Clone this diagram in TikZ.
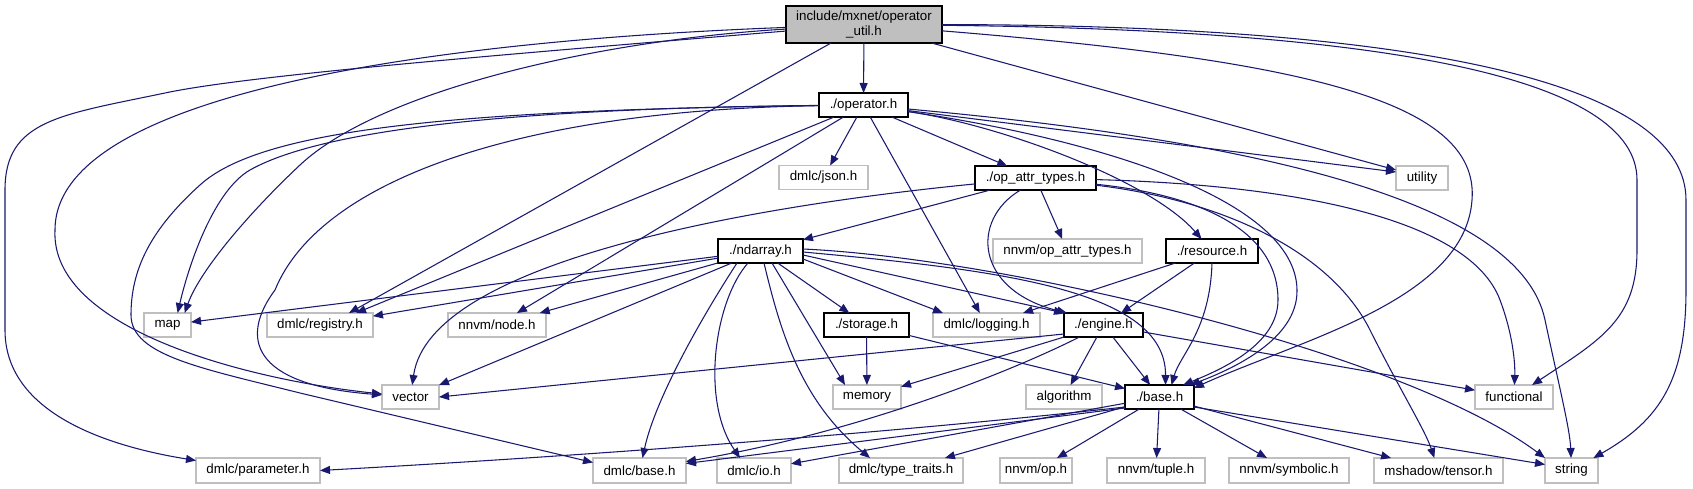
\documentclass[tikz,border=0pt]{standalone}
\usepackage{fontspec}
\setmainfont{Liberation Sans}
\usetikzlibrary{arrows.meta,calc}
\definecolor{edgeblue}{HTML}{191970}
\definecolor{extgray}{HTML}{BFBFBF}
\definecolor{rootgray}{HTML}{BFBFBF}
\begin{document}
\begin{tikzpicture}[x=0.75pt,y=-0.75pt,
  every node/.style={font=\fontsize{10}{11.25}\selectfont, inner sep=0pt, outer sep=0pt},
  sz/.style 2 args={minimum width=#1*0.75pt, minimum height=#2*0.75pt},
  proj/.style={draw=black, line width=0.9pt, fill=white},
  ext/.style={draw=extgray, line width=0.8pt, fill=white},
  rootbox/.style={draw=black, line width=0.9pt, fill=rootgray, align=center},
  dep/.style={draw=edgeblue, line width=0.8pt, -{Triangle[length=7.5pt,width=6pt]}}
]
\useasboundingbox (0,0) rectangle (1693,489);

% nodes
\node[rootbox, sz={156}{37}] (root) at (864,24.5) {include/mxnet/operator\\\_util.h};
\node[proj, sz={89}{24}] (operator) at (863.5,105) {./operator.h};
\node[ext, sz={89}{24}] (json) at (823.5,177.5) {dmlc/json.h};
\node[proj, sz={121}{24}] (opattr) at (1035.5,178) {./op\_attr\_types.h};
\node[ext, sz={52}{24}] (utility) at (1422,178) {utility};
\node[proj, sz={85}{24}] (ndarray) at (760.5,251) {./ndarray.h};
\node[ext, sz={149}{24}] (nnvmopattr) at (1067.5,251) {nnvm/op\_attr\_types.h};
\node[proj, sz={92}{24}] (resource) at (1212,251) {./resource.h};
\node[ext, sz={47}{24}] (map) at (167.5,325) {map};
\node[ext, sz={106}{24}] (registry) at (320,325) {dmlc/registry.h};
\node[ext, sz={98}{24}] (nnvmnode) at (497,325) {nnvm/node.h};
\node[proj, sz={85}{24}] (storage) at (866.5,325) {./storage.h};
\node[ext, sz={107}{24}] (logging) at (986.5,325) {dmlc/logging.h};
\node[proj, sz={79}{24}] (engine) at (1103.5,325) {./engine.h};
\node[ext, sz={57}{24}] (vector) at (410.5,397) {vector};
\node[ext, sz={68}{24}] (memory) at (867,397) {memory};
\node[ext, sz={76}{24}] (algorithm) at (1064,397) {algorithm};
\node[proj, sz={69}{24}] (base) at (1159.5,397) {./base.h};
\node[ext, sz={78}{24}] (functional) at (1514,397) {functional};
\node[ext, sz={124}{25}] (parameter) at (258,470.5) {dmlc/parameter.h};
\node[ext, sz={93}{25}] (dmlcbase) at (639.5,470.5) {dmlc/base.h};
\node[ext, sz={74}{25}] (io) at (754,470.5) {dmlc/io.h};
\node[ext, sz={124}{25}] (typetraits) at (901,470.5) {dmlc/type\_traits.h};
\node[ext, sz={72}{25}] (nnvmop) at (1036,470.5) {nnvm/op.h};
\node[ext, sz={98}{25}] (tuple) at (1156,470.5) {nnvm/tuple.h};
\node[ext, sz={120}{25}] (symbolic) at (1289,470.5) {nnvm/symbolic.h};
\node[ext, sz={129}{25}] (tensor) at (1438.5,470.5) {mshadow/tensor.h};
\node[ext, sz={53}{25}] (string) at (1571.5,470.5) {string};

% root edges
\draw[dep] (root) -- (operator);
\draw[dep] (root) .. controls (600,40) and (380,90) .. (300,165) .. controls (250,212) and (200,270) .. (map.35);
\draw[dep] (root) .. controls (450,40) and (55,90) .. (55,230) .. controls (50,330) and (250,380) .. (vector);
\draw[dep] (root) .. controls (500,55) and (250,75) .. (165,93) .. controls (60,115) and (5,120) .. (5,190) -- (5,330) .. controls (5,410) and (100,445) .. (parameter);
\draw[dep] (root) -- ($(registry.north)+(29,0)$);
\draw[dep] (root) -- ($(utility.west)+(0,-8)$);
\draw[dep] (root) .. controls (1300,60) and (1480,100) .. (1472,200) .. controls (1465,300) and (1300,340) .. ($(base.north east)+(0,3)$);
\draw[dep] (root) .. controls (1400,30) and (1637,80) .. (1637,180) -- (1637,250) .. controls (1637,320) and (1600,340) .. (functional);
\draw[dep] (root) .. controls (1450,25) and (1686,90) .. (1686,200) -- (1686,290) .. controls (1686,380) and (1660,420) .. (string);

% operator edges
\draw[dep] (operator) .. controls (550,108) and (330,125) .. (250,170) .. controls (215,190) and (190,260) .. (map.50);
\draw[dep] (operator) .. controls (450,110) and (260,130) .. (200,185) .. controls (150,230) and (131,270) .. (131,315) .. controls (131,355) and (200,368) .. (300,393) -- ($(dmlcbase.west)+(0,-8)$);
\draw[dep] (operator) .. controls (520,110) and (320,180) .. (275,290) .. controls (240,337) and (250,385) .. (vector);
\draw[dep] (operator) -- ($(registry.north)+(36,0)$);
\draw[dep] (operator) -- (nnvmnode);
\draw[dep] (operator) -- (json);
\draw[dep] (operator) -- (logging);
\draw[dep] (operator) -- (opattr);
\draw[dep] (operator) .. controls (1000,125) and (1150,180) .. (resource);
\draw[dep] (operator) -- ($(utility.west)+(0,-6)$);
\draw[dep] (operator) .. controls (1250,140) and (1520,200) .. (1545,320) .. controls (1560,390) and (1570,430) .. (string);
\draw[dep] (operator) .. controls (1100,140) and (1296,200) .. (1297,290) .. controls (1298,340) and (1230,370) .. ($(base.north east)+(-4,0)$);

% op_attr_types edges
\draw[dep] (opattr) -- (ndarray);
\draw[dep] (opattr) .. controls (760,205) and (430,260) .. (vector);
\draw[dep] ($(opattr.south)+(-15,0)$) .. controls (970,220) and (975,290) .. ($(engine.north west)+(3,0)$);
\draw[dep] (opattr) -- (nnvmopattr);
\draw[dep] (opattr) .. controls (1200,195) and (1278,230) .. (1278,300) .. controls (1278,345) and (1220,370) .. ($(base.north east)+(-11,0)$);
\draw[dep] (opattr) .. controls (1220,200) and (1330,250) .. (1370,330) .. controls (1400,390) and (1425,430) .. (tensor);
\draw[dep] (opattr) .. controls (1300,185) and (1470,220) .. (1500,300) .. controls (1515,340) and (1515,370) .. (functional);

% ndarray edges
\draw[dep] (ndarray) -- (map);
\draw[dep] (ndarray) -- (registry);
\draw[dep] (ndarray) -- (nnvmnode);
\draw[dep] (ndarray) -- (vector);
\draw[dep] ($(ndarray.south west)+(19,0)$) .. controls (700,320) and (655,400) .. ($(dmlcbase.north)+(3,0)$);
\draw[dep] ($(ndarray.south west)+(30,0)$) .. controls (715,300) and (700,400) .. ($(io.north)+(-14,0)$);
\draw[dep] ($(ndarray.south west)+(46,0)$) .. controls (780,330) and (800,400) .. ($(typetraits.north)+(-31,0)$);
\draw[dep] ($(ndarray.south west)+(54,0)$) -- ($(memory.north west)+(12,0)$);
\draw[dep] (ndarray) -- (storage);
\draw[dep] ($(ndarray.east)+(0,8)$) -- ($(logging.north west)+(10,0)$);
\draw[dep] ($(ndarray.east)+(0,4)$) -- (engine.north west);
\draw[dep] ($(ndarray.east)+(0,1)$) .. controls (1000,270) and (1166,290) .. ($(base.north)+(6,0)$);
\draw[dep] ($(ndarray.east)+(0,-2)$) .. controls (1000,258) and (1400,350) .. (string.north west);

% resource edges
\draw[dep] (resource) -- (logging);
\draw[dep] (resource) -- (engine);
\draw[dep] (resource.south) .. controls (1210,330) and (1180,355) .. ($(base.north)+(12,0)$);

% storage edges
\draw[dep] (storage) -- (memory);
\draw[dep] (storage) -- (base);

% engine edges
\draw[dep] ($(engine.south west)+(0,-3)$) -- (vector.east);
\draw[dep] (engine) -- (memory);
\draw[dep] ($(engine.south)+(-24,0)$) .. controls (1010,372) and (860,432) .. ($(dmlcbase.east)+(0,-9)$);
\draw[dep] (engine) -- (algorithm);
\draw[dep] (engine) -- (base);
\draw[dep] (engine) -- (functional);

% base edges
\draw[dep] ($(base.south west)+(0,-2)$) .. controls (900,432) and (600,455) .. (parameter.east);
\draw[dep] ($(base.south west)+(0,-1)$) -- ($(dmlcbase.east)+(0,-7)$);
\draw[dep] (base) -- (io);
\draw[dep] (base) -- (typetraits);
\draw[dep] (base) -- (nnvmop);
\draw[dep] (base) -- (tuple);
\draw[dep] (base) -- (symbolic);
\draw[dep] (base) -- (tensor);
\draw[dep] ($(base.south east)+(0,-2)$) -- ($(string.west)+(0,-6)$);
\end{tikzpicture}
\end{document}
